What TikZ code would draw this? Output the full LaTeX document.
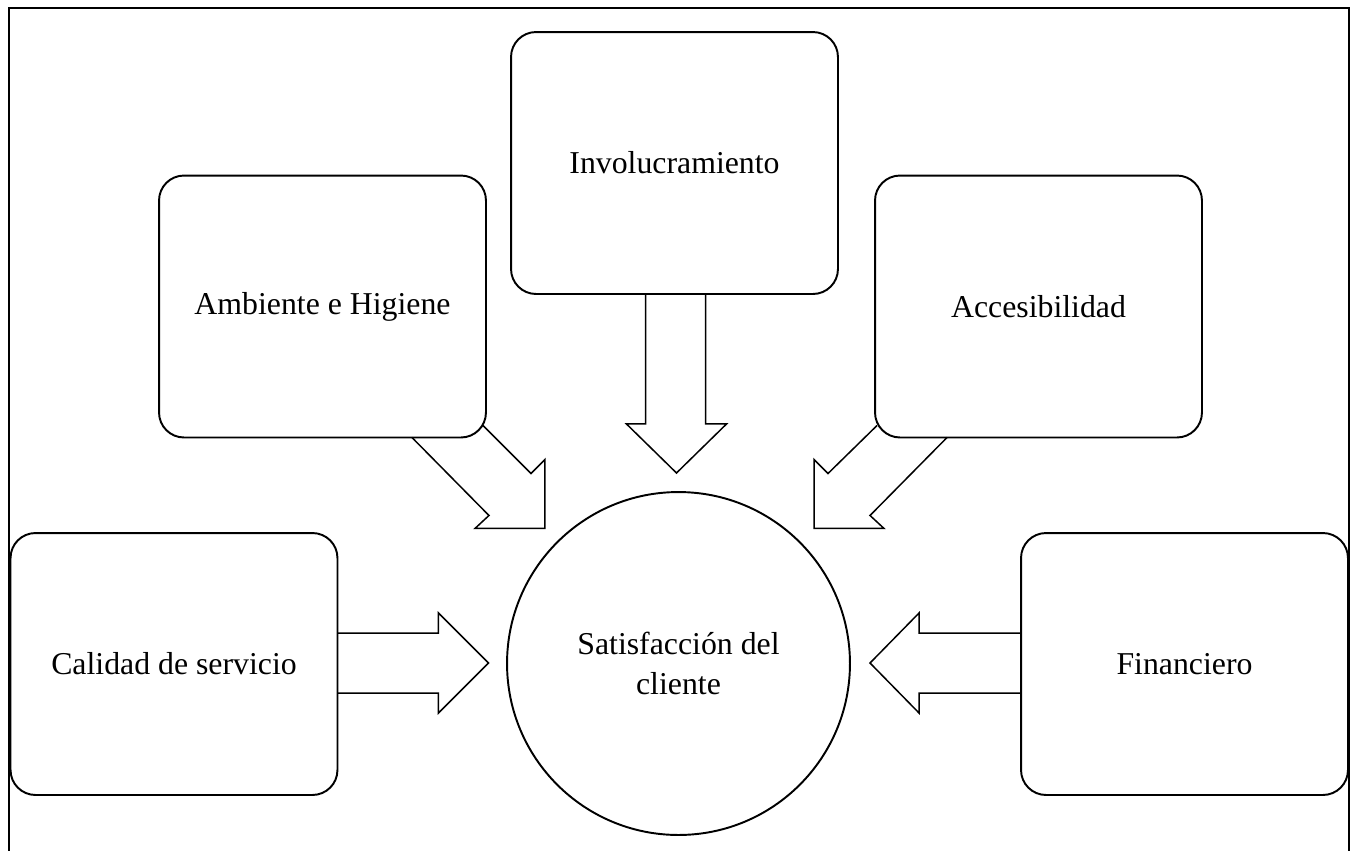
\documentclass[tikz,border=0pt]{standalone}
\usepackage{fontspec}
\setmainfont{Liberation Serif}
\usetikzlibrary{positioning,calc}

\begin{document}
\begin{tikzpicture}[x=0.02cm,y=-0.02cm,
		box/.style={draw,rounded corners=0.5cm,line width=1.1pt,minimum width=6.54cm,minimum height=5.24cm,inner sep=0pt,outer sep=0pt,font=\fontsize{18.1}{23}\selectfont},
		blockarrow/.style={draw,line width=0.85pt,line join=miter}]
		
		\useasboundingbox (0,0) rectangle (1357,850);
		\draw[line width=1.1pt] (9,860) -- (9,8) -- (1349,8) -- (1349,860);
		
		\node[box] (invol) at (674.5,163) {Involucramiento};
		\node[box] (ambiente) at (322.5,306.5) {Ambiente e Higiene};
		\node[box] (acces) at (1038.5,306.5) {Accesibilidad};
		\node[box] (calidad) at (174,664) {Calidad de servicio};
		\node[box] (finan) at (1184.5,664) {Financiero};
		\node[draw,circle,line width=1.1pt,minimum size=6.86cm,inner sep=0pt,align=center,font=\fontsize{18.1}{23}\selectfont] (satis) at (678.5,663.5) {Satisfacción del\\cliente};
		
		\draw[blockarrow] ($(invol.south)+(-29,0)$) -- ++(0,130) -- ++(-19,0) -- ++(50,49) -- ++(50,-49) -- ++(-21,0) -- ++(0,-130);
		\draw[blockarrow] ($(calidad.east)+(0,-31)$) -- ++(101,0) -- ++(0,-20) -- ++(50,50) -- ++(-50,50) -- ++(0,-20) -- ++(-101,0);
		\draw[blockarrow] ($(finan.west)+(0,-31)$) -- ++(-102,0) -- ++(0,-20) -- ++(-49,50) -- ++(49,50) -- ++(0,-20) -- ++(102,0);
		\draw[blockarrow] ($(ambiente.south east)+(-74,0)$) -- ++(77,78) -- ++(-14,13) -- ++(70,0) -- ++(0,-69) -- ++(-14,14) -- ++(-48,-48);
		\draw[blockarrow] ($(acces.south west)+(72,0)$) -- ++(-77,78) -- ++(14,13) -- ++(-70,0) -- ++(0,-69) -- ++(14,14) -- ++(49,-48);
		
	\end{tikzpicture}
\end{document}
